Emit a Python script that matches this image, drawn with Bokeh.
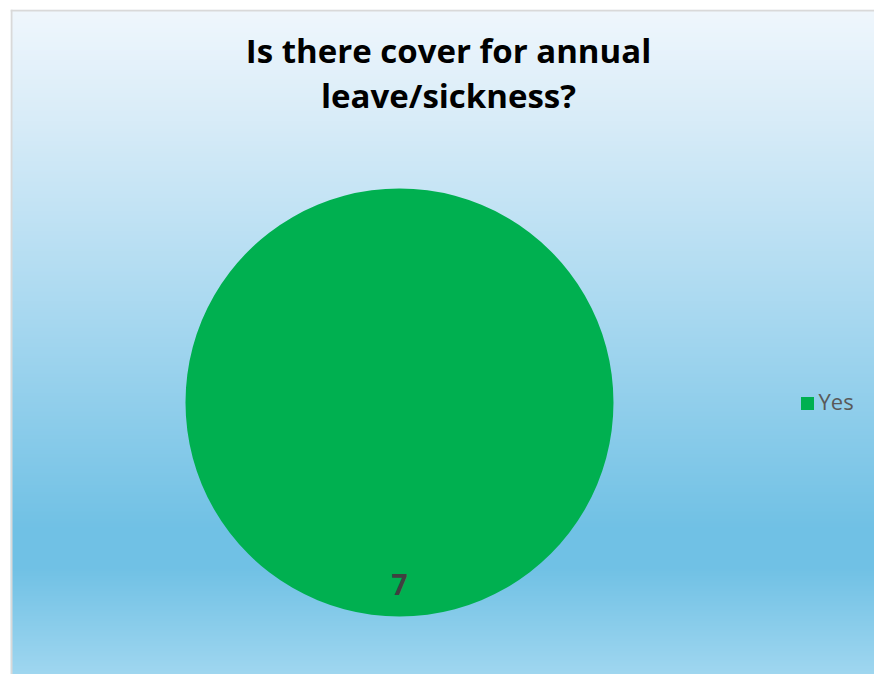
import numpy as np
from bokeh.plotting import figure
from bokeh.models import Range1d, Span
from bokeh.core.properties import value
from bokeh.embed import file_html
from bokeh.resources import INLINE

# ---- data ----
categories = ["Yes"]
counts = [7]
slice_colors = ["#00B050"]
title_lines = ["Is there cover for annual", "leave/sickness?"]

W, H = 874, 674
LEFT, TOP = 10, 9
EXTRA = 20
p = figure(width=W, height=H, output_backend="svg", toolbar_location=None,
           x_range=Range1d(LEFT, W), y_range=Range1d(0, H - TOP),
           min_border_left=LEFT, min_border_top=TOP, min_border_right=0, min_border_bottom=0)
p.axis.visible = False
p.grid.visible = False
p.outline_line_color = None
p.background_fill_color = None
p.border_fill_color = "white"

# gradient background (screen y -> colour), drawn a little past the page edges
stops_y = np.array([TOP, 120, 300, 530, 565, H], dtype=float)
stops_c = np.array([
    [240, 247, 253],
    [216, 236, 248],
    [172, 218, 241],
    [112, 193, 229],
    [112, 193, 229],
    [160, 215, 240],
], dtype=float)
ys = np.arange(TOP, H + EXTRA)
rgb = np.stack([np.interp(ys, stops_y, stops_c[:, k]) for k in range(3)], axis=1)
rgb = rgb[::-1]  # image row 0 is bottom
nh = len(ys)
img = np.empty((nh, 2), dtype=np.uint32)
view = img.view(dtype=np.uint8).reshape((nh, 2, 4))
for k in range(3):
    view[:, :, k] = rgb[:, None, k].astype(np.uint8)
view[:, :, 3] = 255
p.image_rgba(image=[img], x=LEFT, y=-EXTRA, dw=W - LEFT + EXTRA, dh=H - TOP + EXTRA)

# chart border (left and top only; right/bottom run off the page)
p.add_layout(Span(location=LEFT + 1, dimension="height", line_color="#D9D9D9", line_width=2))
p.add_layout(Span(location=H - TOP - 1, dimension="width", line_color="#D9D9D9", line_width=2))

def sy(screen_y):
    return H - screen_y

# pie
cx, cy, R = 399, sy(402), 214
total = float(sum(counts))
cum = np.concatenate([[0], np.cumsum(counts)]) / total
starts = np.pi / 2 - 2 * np.pi * cum[:-1]
ends = np.pi / 2 - 2 * np.pi * cum[1:]
ends_draw = np.maximum(ends, starts - 2 * np.pi + 1e-4)
p.wedge(x=[cx] * len(counts), y=[cy] * len(counts), radius=R, radius_units="screen",
        start_angle=list(starts), end_angle=list(ends_draw), direction="clock",
        fill_color=slice_colors, line_color=None)

mids = (starts + ends) / 2
lx = cx + 0.85 * R * np.cos(mids)
ly = cy + 0.85 * R * np.sin(mids)
p.text(x=list(lx), y=list(ly), text=[str(c) for c in counts],
       text_align="center", text_baseline="middle",
       text_font=value("Open Sans"), text_font_style="bold",
       text_font_size="28px", text_color="#404040")

# title
p.text(x=[448, 448], y=[sy(50), sy(95)], text=title_lines,
       text_align="center", text_baseline="alphabetic",
       text_font=value("Open Sans"), text_font_style="bold",
       text_font_size="33px", text_color="black")

# legend
p.scatter(x=[807], y=[sy(403)], marker="square", size=13,
          fill_color=slice_colors[0], line_color=None)
p.text(x=[818], y=[sy(400)], text=categories,
       text_align="left", text_baseline="middle",
       text_font=value("Open Sans"), text_font_size="22px", text_color="#595959")

open("out.html", "w").write(file_html(p, INLINE))
